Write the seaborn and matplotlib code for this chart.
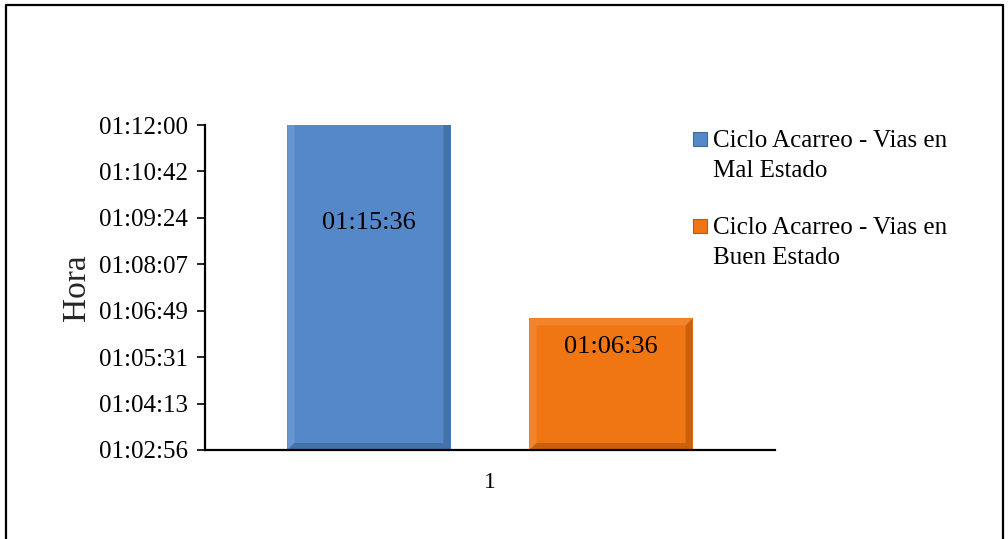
import matplotlib
matplotlib.use("Agg")
import matplotlib.pyplot as plt
from matplotlib.patches import Polygon, Rectangle
from matplotlib.lines import Line2D
from matplotlib.ticker import FixedLocator, FuncFormatter
import seaborn as sns
import pandas as pd
import numpy as np

# ---- data -------------------------------------------------------------
categories = ["1"]
series = ["Ciclo Acarreo - Vias en\nMal Estado",
          "Ciclo Acarreo - Vias en\nBuen Estado"]
durations = ["01:15:36", "01:06:36"]          # hh:mm:ss
colors = ["#5588C8", "#F07513"]
edge_dark = ["#3F6A9E", "#BE5A0C"]
edge_light = ["#6E9CD6", "#F68A33"]

# axis range used by the sheet (fractions of a day)
y_min_days = 0.0437
y_max_days = 0.05
y_step_days = 0.0009


def to_seconds(hms):
    h, m, s = (int(p) for p in hms.split(":"))
    return h * 3600 + m * 60 + s


def fmt_hms(sec, _pos=None):
    sec = int(round(sec))
    return f"{sec // 3600:02d}:{(sec % 3600) // 60:02d}:{sec % 60:02d}"


values = [to_seconds(d) for d in durations]
df = pd.DataFrame({"cat": categories * len(series),
                   "serie": series,
                   "secs": values})

# ---- figure ---------------------------------------------------------------
W, H, DPI = 1008, 539, 100
sns.set_theme(style="white")
plt.rcParams["font.family"] = ["Liberation Serif", "DejaVu Serif"]

fig = plt.figure(figsize=(W / DPI, H / DPI), dpi=DPI)
ax = fig.add_axes([205 / W, 1 - 450 / H, 570 / W, 325 / H])

sns.barplot(data=df, x="cat", y="secs", hue="serie", palette=colors,
            width=0.8, gap=0.326, ax=ax, legend=False,
            saturation=1, edgecolor="none", linewidth=0)

y_lo = y_min_days * 86400
y_hi = y_max_days * 86400
ax.set_ylim(y_lo, y_hi)
ax.set_xlim(-0.471, 0.471)
ticks = np.arange(y_min_days, y_max_days + 1e-9, y_step_days) * 86400
ax.yaxis.set_major_locator(FixedLocator(ticks))
ax.yaxis.set_major_formatter(FuncFormatter(fmt_hms))

ax.set_xlabel("")
ax.set_ylabel("Hora", fontsize=24, labelpad=5)
ax.tick_params(axis="y", which="major", left=True, length=6, width=1.2,
               direction="out", pad=6, labelsize=18, color="black",
               labelcolor="black")
ax.tick_params(axis="x", bottom=False, pad=10, labelsize=17,
               labelcolor="black")

for side in ("top", "right"):
    ax.spines[side].set_visible(False)
for side in ("left", "bottom"):
    ax.spines[side].set_color("black")
    ax.spines[side].set_linewidth(1.6)
ax.grid(False)

# ---- bevel shading on the bars (visible part of each bar) ----------------
fig.canvas.draw()
px_x = (ax.get_xlim()[1] - ax.get_xlim()[0]) / 570.0
px_y = (y_hi - y_lo) / 325.0
bev = 7
bars = [p for p in ax.patches if isinstance(p, Rectangle)]
for bar, dk, lt in zip(bars, edge_dark, edge_light):
    x0 = bar.get_x()
    x1 = x0 + bar.get_width()
    y0 = max(bar.get_y(), y_lo)
    y1 = bar.get_y() + bar.get_height()
    bx, by = bev * px_x, bev * px_y
    faces = [
        ([(x0, y0), (x0 + bx, y0 + by), (x0 + bx, y1 - by), (x0, y1)], lt),
        ([(x0, y1), (x0 + bx, y1 - by), (x1 - bx, y1 - by), (x1, y1)], lt),
        ([(x1, y0), (x1 - bx, y0 + by), (x1 - bx, y1 - by), (x1, y1)], dk),
        ([(x0, y0), (x0 + bx, y0 + by), (x1 - bx, y0 + by), (x1, y0)], dk),
    ]
    for pts, c in faces:
        ax.add_patch(Polygon(pts, closed=True, facecolor=c, edgecolor="none",
                             alpha=0.75, zorder=bar.get_zorder() + 0.1))

# ---- value labels -----------------------------------------------------------
label_modes = ["center", "inside_end"]
for bar, text, mode in zip(bars, durations, label_modes):
    xc = bar.get_x() + bar.get_width() / 2
    top = bar.get_y() + bar.get_height()
    if mode == "center":
        ax.text(xc, (y_lo + top) / 2, text, ha="center", va="center",
                fontsize=19, color="black", zorder=5)
    else:
        ax.annotate(text, (xc, top), xytext=(0, -29),
                    textcoords="offset pixels", ha="center", va="center",
                    fontsize=19, color="black", zorder=5)

# ---- legend -----------------------------------------------------------------
leg_y = [139, 226]       # marker centres (px from top)
line_gap = 30
for yc, c, dk, lab in zip(leg_y, colors, edge_dark, series):
    fig.patches.append(Rectangle((693 / W, 1 - (yc + 7) / H), 14 / W, 14 / H,
                                 transform=fig.transFigure, facecolor=c,
                                 edgecolor=dk, linewidth=0.8))
    for i, line in enumerate(lab.split("\n")):
        fig.text(713 / W, 1 - (yc + 8 + i * line_gap) / H, line,
                 fontsize=18, color="black", ha="left", va="baseline")

# ---- outer frame ------------------------------------------------------------
frame_pts = [(6, 545), (6, 5), (1003, 5), (1003, 545)]
xs = [p[0] / W for p in frame_pts]
ys = [1 - p[1] / H for p in frame_pts]
fig.lines.append(Line2D(xs, ys, transform=fig.transFigure, color="black",
                        linewidth=1.6))

fig.savefig("out.png", dpi=DPI)
